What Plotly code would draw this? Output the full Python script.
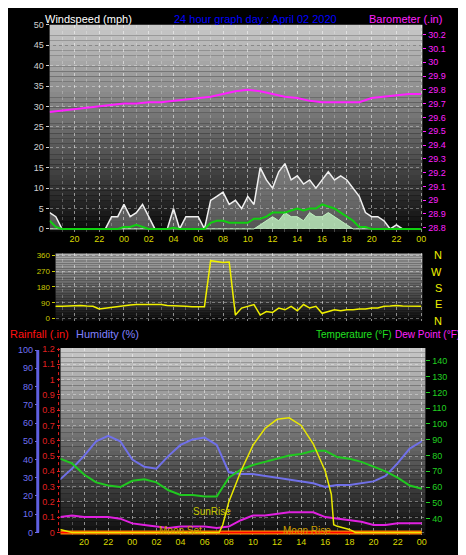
import plotly.graph_objects as go

W, H = 466, 555
def py(p): return 1 - p / H
def px(p): return p / W

# ---------------- data ----------------
hours = list(range(18, 49))
half = [18 + i * 0.5 for i in range(61)]

baro = [29.64, 29.65, 29.66, 29.67, 29.68, 29.69, 29.70, 29.70, 29.71, 29.71, 29.72, 29.73, 29.74, 29.75,
        29.77, 29.79, 29.80, 29.79, 29.77, 29.75, 29.74, 29.72, 29.71, 29.71, 29.71, 29.71, 29.74, 29.75,
        29.76, 29.77, 29.77]

gust = [4, 3, 0, 0, 0, 0, 0, 0, 0, 0, 3, 3, 6, 3, 4, 6, 3, 0, 0, 0,
        5, 0, 3, 3, 3, 0, 7, 8, 9, 6, 7, 5, 8, 6, 15, 12, 10, 14, 16, 12,
        13, 11, 12, 10, 12, 14, 12, 13, 12, 10, 8, 4, 3, 3, 2, 0, 1, 0, 0, 0, 0]
wavg = [2, 0.5, 0, 0, 0, 0, 0, 0, 0, 0, 0, 0, 0.5, 0.5, 1, 0.5, 0, 0, 0, 0,
        0.3, 0, 0, 0, 0, 0, 1.5, 2, 2, 1.5, 1.5, 1.5, 1.5, 2.5, 2.5, 3, 4, 4, 4, 4.5,
        5, 4.5, 5, 5, 6, 5.5, 5, 4, 3, 2, 0.5, 0.5, 0, 0, 0, 0, 0, 0, 0, 0, 0]
wspd = [0, 0, 0, 0, 0, 0, 0, 0, 0, 0, 0, 0, 0, 0, 0, 0, 0, 0, 0, 0,
        0, 0, 0, 0, 0, 0, 0, 0, 0, 0, 0, 0, 0, 0, 1, 2, 3, 2, 4, 3,
        3, 2, 4, 3, 3, 4, 3, 2, 1, 0, 0, 0, 0, 0, 0, 0, 0, 0, 0, 0, 0]

wdir = [65, 70, 70, 72, 75, 75, 72, 70, 55, 60, 65, 70, 75, 78, 80, 80, 82, 82, 80, 75,
        72, 70, 70, 68, 68, 68, 330, 325, 320, 322, 20, 60, 70, 80, 20, 40, 35, 60, 50, 70,
        45, 80, 60, 70, 30, 40, 50, 45, 50, 50, 55, 55, 60, 60, 70, 72, 75, 72, 72, 70, 70]
dir_t = half

humid = [29, 35, 42, 50, 53, 50, 40, 36, 35, 42, 48, 51, 52, 48, 33, 32, 32, 31, 30, 29,
         28, 27, 25, 26, 26, 27, 28, 31, 38, 46, 50]
temp = [78, 75, 68, 63, 61, 60, 64, 65, 63, 58, 55, 55, 54, 54, 66, 71, 74, 76, 78, 80,
        81, 83, 83, 79, 78, 76, 73, 70, 66, 61, 59]
dew = [41, 42, 41, 41, 41, 40, 37, 36, 35, 34, 35, 35, 35, 34, 35, 39, 42, 42, 43, 44,
       44, 44, 41, 40, 39, 38, 36, 36, 37, 37, 37]
rain = [0] * 31

sol_t = [18, 18.5, 19, 31.2, 31.5, 32, 33, 34, 35, 36, 37, 38, 39, 40, 40.5, 40.7, 41, 42, 42.5, 48]
solar = [0.02, 0.01, 0, 0, 0.05, 0.2, 0.4, 0.57, 0.68, 0.74, 0.75, 0.7, 0.58, 0.4, 0.25, 0.05, 0.04, 0.02, 0, 0]

xt = list(range(20, 49, 2))
xl = ["%02d" % (h % 24) for h in xt]

# ---------------- figure ----------------
fig = go.Figure()
wf = "Liberation Sans"

fig.add_trace(go.Scatter(x=half, y=gust, mode="lines", line=dict(color="#f0f0f0", width=1.5),
                         fill="tozeroy", fillcolor="rgba(255,255,255,0.3)", xaxis="x", yaxis="y"))
fig.add_trace(go.Scatter(x=half, y=wspd, mode="lines", line=dict(color="#c0f0c0", width=1),
                         fill="tozeroy", fillcolor="rgba(190,240,190,0.8)", xaxis="x", yaxis="y"))
fig.add_trace(go.Scatter(x=half, y=wavg, mode="lines", line=dict(color="#10d010", width=2),
                         xaxis="x", yaxis="y"))
fig.add_trace(go.Scatter(x=hours, y=baro, mode="lines", line=dict(color="#ff20ff", width=2),
                         xaxis="x", yaxis="y2"))
fig.add_trace(go.Scatter(x=dir_t, y=wdir, mode="lines", line=dict(color="#f0f000", width=1.5),
                         xaxis="x3", yaxis="y3"))
fig.add_trace(go.Scatter(x=hours, y=rain, mode="lines", line=dict(color="#ff8000", width=4),
                         xaxis="x4", yaxis="y5"))
fig.add_trace(go.Scatter(x=hours, y=rain, mode="lines", line=dict(color="#ff0000", width=1.5),
                         xaxis="x4", yaxis="y5"))
fig.add_trace(go.Scatter(x=hours, y=humid, mode="lines", line=dict(color="#7070e8", width=2),
                         xaxis="x4", yaxis="y4"))
fig.add_trace(go.Scatter(x=hours, y=temp, mode="lines", line=dict(color="#20c820", width=2),
                         xaxis="x4", yaxis="y6"))
fig.add_trace(go.Scatter(x=hours, y=dew, mode="lines", line=dict(color="#e020e0", width=2),
                         xaxis="x4", yaxis="y6"))
fig.add_trace(go.Scatter(x=sol_t, y=solar, mode="lines", line=dict(color="#e8e800", width=1.5),
                         xaxis="x4", yaxis="y7"))

grid = dict(showgrid=True, gridcolor="rgba(255,255,255,0.35)", griddash="dot", gridwidth=1, zeroline=False)
xcommon = dict(tickmode="array", tickvals=xt, ticktext=xl, tickfont=dict(color="#d8d800", size=9, family=wf),
               minor=dict(dtick=1, showgrid=True, gridcolor="rgba(255,255,255,0.25)", griddash="dot"),
               ticks="", **grid)

shapes = []
def gradient(x0, x1, y0, y1, top, bot, n=40):
    for i in range(n):
        f = i / n
        c = [int(top[k] + (bot[k] - top[k]) * f) for k in range(3)]
        shapes.append(dict(type="rect", xref="paper", yref="paper", layer="below", line=dict(width=0),
                           x0=px(x0), x1=px(x1), y0=py(y0 + (y1 - y0) * (i + 1) / n), y1=py(y0 + (y1 - y0) * i / n),
                           fillcolor="rgb(%d,%d,%d)" % tuple(c)))
gradient(42, 418, 12, 222, (200, 200, 200), (8, 8, 8))
gradient(48, 418, 244, 312, (175, 175, 175), (10, 10, 10))
gradient(53, 421, 340, 530, (200, 200, 200), (10, 10, 10))
shapes.append(dict(type="line", xref="paper", yref="paper", x0=px(30), x1=px(30), y0=py(342), y1=py(527),
                   line=dict(color="#6060e0", width=3)))
shapes.append(dict(type="line", xref="paper", yref="paper", x0=px(51), x1=px(51), y0=py(340), y1=py(528),
                   line=dict(color="#e02020", width=1, dash="dot")))

tf = dict(size=9, family=wf)
fig.update_layout(
    width=W, height=H, margin=dict(l=0, r=0, t=0, b=0), showlegend=False,
    paper_bgcolor="black", plot_bgcolor="rgba(0,0,0,0)", shapes=shapes,
    font=dict(family=wf, size=9),
    xaxis=dict(domain=[px(42), px(418)], range=[18, 48.1], anchor="y", **xcommon),
    yaxis=dict(domain=[py(222), py(12)], range=[-0.7, 50], dtick=5, tickfont=dict(color="#d0d0d0", **tf),
               ticks="outside", ticklen=3, tickcolor="#d0d0d0", **grid),
    yaxis2=dict(overlaying="y", side="right", range=[28.771, 30.271], dtick=0.1, tickformat="~g",
                tickfont=dict(color="#ff20ff", **tf), ticks="outside", ticklen=3, tickcolor="#ff20ff",
                showgrid=False, zeroline=False, anchor="x"),
    xaxis3=dict(domain=[px(48), px(418)], range=[18.48, 48.1], anchor="y3", side="top", **xcommon),
    yaxis3=dict(domain=[py(312), py(244)], range=[-11, 371], tickvals=[0, 90, 180, 270, 360],
                tickfont=dict(color="#c8c800", size=8, family=wf), ticks="outside", ticklen=3, tickcolor="#c8c800",
                anchor="x3", **grid),
    xaxis4=dict(domain=[px(53), px(421)], range=[18.05, 48.3], anchor="y6", **xcommon),
    yaxis4=dict(domain=[py(530), py(340)], range=[-1.6, 101.1], dtick=10, anchor="free", position=px(31),
                tickfont=dict(color="#7070f0", **tf), ticks="outside", ticklen=4, tickcolor="#7070f0",
                showgrid=False, zeroline=False),
    yaxis5=dict(overlaying="y4", range=[-0.019, 1.206], dtick=0.1, tickformat="~g", anchor="free",
                position=px(52), side="left", tickfont=dict(color="#e02020", **tf),
                ticks="outside", ticklen=3, tickcolor="#e02020", **grid),
    yaxis6=dict(overlaying="y4", side="right", anchor="x4", range=[29.4, 148.1], tickvals=list(range(40, 141, 10)),
                tickfont=dict(color="#20d020", **tf), ticks="outside", ticklen=4, tickcolor="#20d020",
                showgrid=False, zeroline=False),
    yaxis7=dict(overlaying="y4", range=[-0.019, 1.206], visible=False),
)
fig.update_xaxes(showticklabels=False, selector=dict(anchor="y3"))

ann = [
    ("Windspeed (mph)", 35, 6, "#ffffff", 11, "left"),
    ("24 hour graph day : April 02 2020", 250, 6, "#0000ff", 11, "center"),
    ("Barometer (.in)", 440, 6, "#ff20ff", 11, "right"),
    ("Rainfall (.in)", 0, 326, "#ff1010", 11, "left"),
    ("Humidity (%)", 67, 326, "#8080ff", 11, "left"),
    ("Temperature (°F)", 389, 326, "#20e020", 10, "right"),
    ("Dew Point (°F)", 458, 326, "#ff20ff", 10, "right"),
    ("SunRise", 185, 506, "#c8c800", 10, "left"),
    ("Moon Set", 150, 525, "#d0a000", 10, "left"),
    ("Moon Rise", 275, 525, "#d0a000", 10, "left"),
]
for t, x, y, c, s, al in ann:
    fig.add_annotation(text=t, x=px(x), y=py(y), xref="paper", yref="paper",
                       xanchor=al, yanchor="middle", showarrow=False, font=dict(color=c, size=s, family=wf))
for i, t in enumerate("NWSEN"):
    fig.add_annotation(text=t, x=px(440), y=py(246 + i * 16.5), xref="paper", yref="paper", showarrow=False,
                       font=dict(color="#f0f000", size=11, family=wf))

fig.write_html("out.html")
